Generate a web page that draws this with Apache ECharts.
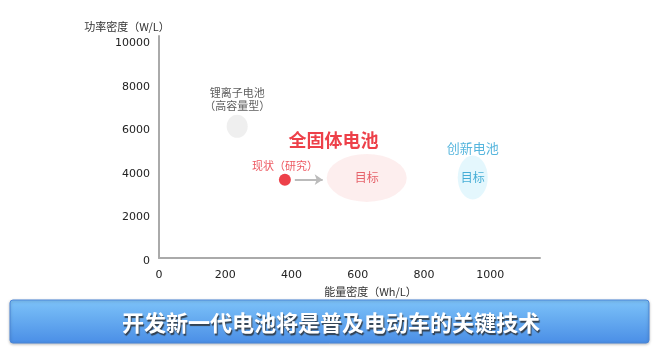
<!DOCTYPE html>
<html>
<head>
<meta charset="utf-8">
<script src="https://cdn.jsdelivr.net/npm/echarts@6/dist/echarts.min.js"></script>
<style>
html, body { margin: 0; padding: 0; background: #fff; }
#main { width: 660px; height: 351px; }
</style>
</head>
<body>
<div id="main"></div>
<script>
// 坐标轴
var xTicks = [0, 200, 400, 600, 800, 1000];
var yTicks = [0, 2000, 4000, 6000, 8000, 10000];
var xName = '能量密度（Wh/L）';
var yName = '功率密度（W/L）';

// 锂离子电池
var liion = [236, 6050];
var liionName = '锂离子电池\n（高容量型）';
// 全固体电池 现状 / 目标
var current = [380, 3600];
var currentName = '现状（研究）';
var arrowFrom = [410, 3600];
var arrowTo = [494, 3600];
var solidTarget = [627, 3680];
var solidName = '全固体电池';
var solidNamePos = [527, 5420];
// 创新电池 目标
var novelTarget = [947, 3700];
var novelName = '创新电池';
var novelNamePos = [947, 5060];
var targetName = '目标';

var banner = '开发新一代电池将是普及电动车的关键技术';

var ellipse = 'path://M0,50 A50,50 0 1,1 100,50 A50,50 0 1,1 0,50 Z';
var cjk = "'Noto Sans CJK SC', sans-serif";

var myChart = echarts.init(document.getElementById('main'));
var option = {
	animation: false,
	grid: { left: 159, right: 120, top: 36, bottom: 93 },
	xAxis: {
		type: 'value', min: 0, max: 1150, interval: 200,
		name: xName, nameLocation: 'middle', nameGap: 28,
		nameTextStyle: { fontFamily: cjk, fontSize: 11, color: '#333', padding: [0, 0, 0, 42] },
		axisLine: { lineStyle: { color: '#aaa', width: 2 } },
		axisTick: { show: false },
		splitLine: { show: false },
		axisLabel: {
			margin: 12, fontFamily: 'DejaVu Sans', fontSize: 11, color: '#222',
			formatter: function (v) { return xTicks.indexOf(v) >= 0 ? v : ''; }
		}
	},
	yAxis: {
		type: 'value', min: 0, max: 10200, interval: 2000,
		name: yName, nameGap: 4,
		nameTextStyle: { fontFamily: cjk, fontSize: 11, color: '#333', align: 'center', padding: [0, 64, 0, 0] },
		axisLine: { lineStyle: { color: '#aaa', width: 2 } },
		axisTick: { show: false },
		splitLine: { show: false },
		axisLabel: {
			margin: 9, fontFamily: 'DejaVu Sans', fontSize: 11, color: '#222',
			verticalAlign: 'top', lineHeight: 6,
			formatter: function (v) { return yTicks.indexOf(v) >= 0 ? v : ''; }
		}
	},
	series: [
		{
			type: 'scatter',
			symbol: ellipse,
			z: 2,
			data: [
				{
					value: liion, symbolSize: [21, 23],
					itemStyle: { color: '#ebebeb' },
					label: { show: true, position: 'top', distance: 3, formatter: liionName,
						fontFamily: cjk, fontSize: 11, lineHeight: 13, color: '#333' }
				},
				{
					value: solidTarget, symbolSize: [80, 48],
					itemStyle: { color: '#fdeaea' },
					label: { show: true, position: 'inside', formatter: targetName,
						fontFamily: cjk, fontSize: 12, color: '#e0404a' }
				},
				{
					value: novelTarget, symbolSize: [30, 44],
					itemStyle: { color: '#ddf5fd' },
					label: { show: true, position: 'inside', formatter: targetName,
						fontFamily: cjk, fontSize: 12, color: '#1e9bcc' }
				}
			]
		},
		{
			type: 'scatter',
			symbol: 'circle',
			symbolSize: 12,
			z: 3,
			data: [{
				value: current,
				itemStyle: { color: '#e8101c' },
				label: { show: true, position: 'top', distance: 2, formatter: currentName,
					fontFamily: cjk, fontSize: 11, color: '#e8303a' }
			}],
			markLine: {
				silent: true,
				symbol: ['none', 'arrow'],
				symbolSize: [8, 8],
				label: { show: false },
				lineStyle: { color: '#bbb', width: 2, type: 'solid' },
				data: [[{ coord: arrowFrom }, { coord: arrowTo }]]
			}
		},
		{
			type: 'scatter',
			symbolSize: 0,
			data: [
				{
					value: solidNamePos,
					label: { show: true, position: 'inside', formatter: solidName,
						fontFamily: cjk, fontSize: 18, fontWeight: 'bold', color: '#e8101c' }
				},
				{
					value: novelNamePos,
					label: { show: true, position: 'inside', formatter: novelName,
						fontFamily: cjk, fontSize: 13, color: '#2aa3d4' }
				}
			]
		}
	],
	graphic: [
		{
			type: 'rect',
			shape: { x: 10, y: 300, width: 639, height: 43, r: 3 },
			style: {
				fill: new echarts.graphic.LinearGradient(0, 0, 0, 1, [
					{ offset: 0, color: '#7dc3f9' },
					{ offset: 1, color: '#4a8ee6' }
				]),
				stroke: '#4a86d8', lineWidth: 1,
				shadowBlur: 3, shadowColor: 'rgba(0,0,0,0.25)', shadowOffsetY: 1
			}
		},
		{
			type: 'text',
			x: 331, y: 323,
			style: {
				text: banner,
				fontFamily: cjk, fontSize: 22, fontWeight: 'bold', fill: '#fff',
				align: 'center', verticalAlign: 'middle',
				textShadowColor: 'rgba(40,40,40,0.8)', textShadowBlur: 1,
				textShadowOffsetX: 1, textShadowOffsetY: 2
			}
		}
	]
};
myChart.setOption(option);
</script>
</body>
</html>
